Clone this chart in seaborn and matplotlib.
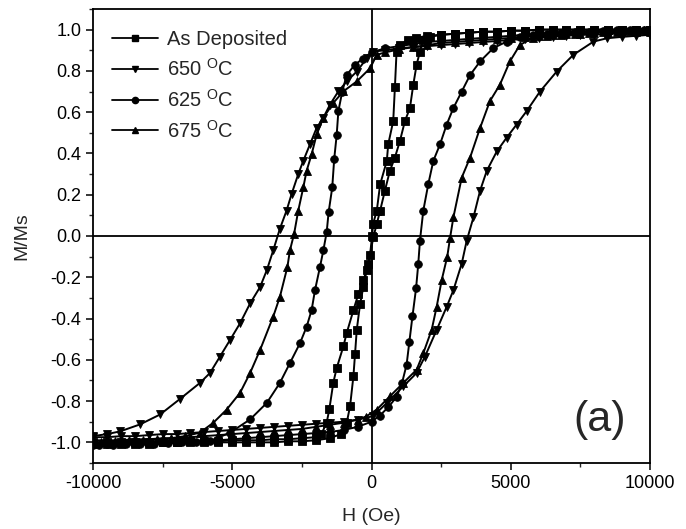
import matplotlib
matplotlib.use('Agg')
import matplotlib.pyplot as plt
import seaborn as sns
import pandas as pd
from matplotlib.ticker import MultipleLocator, FormatStrFormatter
from matplotlib.lines import Line2D

# ---------------- data (H in Oe, M/Ms) ----------------
series_labels = ["As Deposited", "650 $^{\\mathrm{O}}$C", "625 $^{\\mathrm{O}}$C", "675 $^{\\mathrm{O}}$C"]
series_markers = ['s', 'v', 'o', '^']

asdep_branch_a = [(-10000,-1.01),(-9500,-1.01),(-9000,-1.01),(-8500,-1.01),(-8000,-1.01),(-7500,-1.0),(-7000,-1.0),
    (-6500,-1.0),(-6000,-1.0),(-5500,-1.0),(-5000,-1.0),(-4500,-1.0),(-4000,-1.0),(-3500,-1.0),(-3000,-0.995),
    (-2500,-0.995),(-2000,-0.99),(-1500,-0.98),(-1100,-0.96),(-890,-0.905),(-770,-0.825),(-650,-0.68),(-590,-0.57),
    (-530,-0.455),(-410,-0.33),(-290,-0.245),(-170,-0.165),(-50,-0.09),(20,0.0),(60,0.06),(190,0.123),(310,0.25),
    (550,0.364),(600,0.444),(780,0.557),(840,0.72),(900,0.894),(1020,0.925),(1300,0.95),(1600,0.96),(2000,0.97),
    (2500,0.975),(3000,0.98),(3500,0.985),(4000,0.99),(4500,0.99),(5000,0.995),(5500,0.995),(6000,1.0),(6500,1.0),
    (7000,1.0),(7500,1.0),(8000,1.0),(8500,1.0),(9000,1.0),(9500,1.0),(10000,1.0)]

asdep_branch_b = [(-10000,-1.0),(-9500,-1.0),(-9000,-1.0),(-8500,-1.0),(-8000,-1.0),(-7500,-1.0),(-7000,-1.0),
    (-6500,-0.995),(-6000,-0.995),(-5500,-0.995),(-5000,-0.99),(-4500,-0.99),(-4000,-0.99),(-3500,-0.985),
    (-3000,-0.985),(-2500,-0.98),(-2000,-0.975),(-1800,-0.96),(-1610,-0.905),(-1515,-0.84),(-1370,-0.71),
    (-1250,-0.64),(-1010,-0.535),(-890,-0.47),(-650,-0.36),(-470,-0.28),(-290,-0.215),(-110,-0.135),(65,-0.006),
    (190,0.059),(310,0.123),(480,0.219),(660,0.316),(840,0.38),(1020,0.46),(1200,0.557),(1380,0.62),(1500,0.733),
    (1620,0.83),(1740,0.894),(1850,0.95),(2100,0.965),(2500,0.975),(3000,0.98),(3500,0.985),(4000,0.99),(4500,0.99),
    (5000,0.995),(5500,0.995),(6000,1.0),(6500,1.0),(7000,1.0),(7500,1.0),(8000,1.0),(8500,1.0),(9000,1.0),
    (9500,1.0),(10000,1.0)]

t650_desc = [(10000,0.985),(9500,0.985),(9000,0.98),(8500,0.98),(8000,0.975),(7500,0.975),(7000,0.97),(6500,0.965),
    (6000,0.96),(5500,0.955),(5000,0.95),(4500,0.945),(4000,0.94),(3500,0.935),(3000,0.93),(2500,0.925),(2000,0.92),
    (1500,0.915),(1000,0.91),(500,0.90),(60,0.894),(-170,0.861),(-530,0.797),(-890,0.749),(-1190,0.701),
    (-1490,0.637),(-1730,0.573),(-1970,0.524),(-2210,0.444),(-2450,0.364),(-2630,0.30),(-2870,0.203),(-3050,0.123),
    (-3290,0.035),(-3530,-0.07),(-3760,-0.166),(-4000,-0.247),(-4360,-0.327),(-4720,-0.423),(-5080,-0.504),
    (-5440,-0.584),(-5800,-0.664),(-6160,-0.712),(-6880,-0.79),(-7590,-0.865),(-8310,-0.913),(-9030,-0.947),
    (-9500,-0.96),(-10000,-0.97)]

t650_asc = [(-10000,-0.975),(-9500,-0.975),(-9000,-0.97),(-8500,-0.97),(-8000,-0.965),(-7500,-0.96),(-7000,-0.96),
    (-6500,-0.955),(-6000,-0.95),(-5500,-0.945),(-5000,-0.94),(-4500,-0.935),(-4000,-0.93),(-3500,-0.925),
    (-3000,-0.92),(-2500,-0.915),(-2000,-0.91),(-1500,-0.905),(-1000,-0.90),(-500,-0.89),(60,-0.873),(550,-0.809),
    (1140,-0.729),(1620,-0.664),(1920,-0.584),(2340,-0.455),(2700,-0.343),(2940,-0.263),(3240,-0.134),(3420,-0.022),
    (3660,0.09),(3900,0.22),(4140,0.316),(4500,0.41),(4850,0.476),(5210,0.54),(5570,0.605),(6050,0.70),(6650,0.797),
    (7250,0.878),(7970,0.942),(8450,0.958),(9000,0.965),(9500,0.97),(10000,0.975)]

t625_desc = [(10000,1.0),(9500,1.0),(9000,1.0),(8500,0.995),(8000,0.995),(7500,0.99),(7000,0.99),(6500,0.985),
    (6000,0.98),(5500,0.975),(5000,0.97),(4500,0.965),(4000,0.96),(3500,0.955),(3000,0.95),(2500,0.945),(2000,0.94),
    (1500,0.93),(1000,0.92),(500,0.91),(0,0.89),(-300,0.86),(-600,0.83),(-890,0.78),(-1050,0.70),(-1190,0.605),
    (-1250,0.49),(-1340,0.372),(-1410,0.235),(-1540,0.115),(-1610,0.018),(-1730,-0.07),(-1850,-0.15),(-2030,-0.263),
    (-2150,-0.359),(-2330,-0.44),(-2570,-0.52),(-2930,-0.616),(-3290,-0.712),(-3760,-0.809),(-4360,-0.889),
    (-5080,-0.953),(-5800,-0.994),(-6300,-1.0),(-6800,-1.0),(-7300,-1.005),(-7800,-1.01),(-8300,-1.01),
    (-8800,-1.01),(-9300,-1.015),(-9800,-1.015),(-10000,-1.015)]

t625_asc = [(-10000,-1.01),(-9500,-1.01),(-9000,-1.0),(-8500,-1.0),(-8000,-1.0),(-7500,-1.0),(-7000,-1.0),
    (-6500,-0.995),(-6000,-0.99),(-5500,-0.99),(-5000,-0.985),(-4500,-0.98),(-4000,-0.975),(-3500,-0.97),
    (-3000,-0.965),(-2500,-0.96),(-2000,-0.955),(-1500,-0.95),(-1000,-0.94),(-500,-0.925),(0,-0.9),(300,-0.87),
    (600,-0.83),(900,-0.78),(1100,-0.71),(1260,-0.624),(1360,-0.512),(1470,-0.39),(1600,-0.254),(1680,-0.134),
    (1740,-0.022),(1860,0.123),(2040,0.252),(2220,0.364),(2460,0.444),(2700,0.54),(2940,0.62),(3240,0.70),
    (3540,0.78),(3900,0.846),(4370,0.91),(4850,0.942),(5330,0.966),(5800,0.975),(6300,0.98),(6800,0.985),
    (7300,0.99),(7800,0.99),(8300,0.995),(8800,1.0),(9300,1.0),(9800,1.0),(10000,1.0)]

t675_desc = [(10000,0.99),(9500,0.99),(9000,0.99),(8500,0.985),(8000,0.985),(7500,0.98),(7000,0.98),(6500,0.975),
    (6000,0.97),(5500,0.965),(5000,0.96),(4500,0.955),(4000,0.95),(3500,0.945),(3000,0.94),(2500,0.935),
    (2000,0.925),(1500,0.915),(1000,0.905),(500,0.89),(190,0.878),(-50,0.813),(-530,0.749),(-1010,0.701),
    (-1370,0.645),(-1730,0.573),(-1970,0.492),(-2150,0.396),(-2330,0.316),(-2450,0.235),(-2630,0.123),
    (-2780,0.01),(-2930,-0.07),(-3020,-0.15),(-3290,-0.295),(-3530,-0.391),(-4000,-0.552),(-4360,-0.664),
    (-4720,-0.76),(-5200,-0.841),(-5680,-0.905),(-6160,-0.953),(-6700,-0.97),(-7200,-0.98),(-7700,-0.985),
    (-8200,-0.99),(-8700,-0.99),(-9200,-0.995),(-9700,-1.0),(-10000,-1.0)]

t675_asc = [(-10000,-0.99),(-9500,-0.99),(-9000,-0.99),(-8500,-0.985),(-8000,-0.985),(-7500,-0.98),(-7000,-0.98),
    (-6500,-0.975),(-6000,-0.97),(-5500,-0.965),(-5000,-0.96),(-4500,-0.955),(-4000,-0.95),(-3500,-0.945),
    (-3000,-0.94),(-2500,-0.935),(-2000,-0.925),(-1500,-0.915),(-1000,-0.905),(-500,-0.89),(-200,-0.875),
    (190,-0.841),(660,-0.777),(1140,-0.712),(1620,-0.648),(1860,-0.568),(2160,-0.455),(2340,-0.343),(2520,-0.214),
    (2720,-0.10),(2820,-0.01),(2940,0.09),(3240,0.283),(3540,0.38),(3900,0.524),(4250,0.653),(4610,0.733),
    (4970,0.846),(5330,0.926),(5800,0.96),(6300,0.97),(6800,0.975),(7300,0.98),(7800,0.985),(8300,0.99),
    (8800,0.99),(9300,0.995),(9800,1.0),(10000,1.0)]

series_branches = [[asdep_branch_a, asdep_branch_b], [t650_desc, t650_asc],
                   [t625_desc, t625_asc], [t675_desc, t675_asc]]

x_ticks = [-10000, -5000, 0, 5000, 10000]
y_ticks = [-1.0, -0.8, -0.6, -0.4, -0.2, 0.0, 0.2, 0.4, 0.6, 0.8, 1.0]

# ---------------- style ----------------
sns.set_style('ticks')
plt.rcParams['font.family'] = ['Liberation Sans', 'DejaVu Sans']
plt.rcParams['mathtext.fontset'] = 'custom'
plt.rcParams['mathtext.rm'] = 'Liberation Sans'
plt.rcParams['axes.unicode_minus'] = False

fig = plt.figure(figsize=(6.86, 5.29), dpi=100)
ax = fig.add_axes([0.1356, 0.1248, 0.8119, 0.8582])

ax.axhline(0, color='black', lw=1.3, zorder=1)
ax.axvline(0, color='black', lw=1.3, zorder=1)

handles = []
for label, marker, branches in zip(series_labels, series_markers, series_branches):
    for br in branches:
        df = pd.DataFrame(br, columns=['H', 'M'])
        sns.lineplot(data=df, x='H', y='M', sort=False, estimator=None, ax=ax,
                     color='black', marker=marker, markersize=5.5, markeredgecolor='black',
                     markeredgewidth=0.6, linewidth=1.4, legend=False, zorder=3)
    handles.append(Line2D([0], [0], color='black', marker=marker, markersize=4.5,
                          markeredgecolor='black', lw=1.3, label=label))

ax.set_xlim(-10000, 10000)
ax.set_ylim(-1.1, 1.1)
ax.set_xticks(x_ticks)
ax.set_yticks(y_ticks)
ax.xaxis.set_minor_locator(MultipleLocator(2500))
ax.yaxis.set_minor_locator(MultipleLocator(0.1))
ax.yaxis.set_major_formatter(FormatStrFormatter('%.1f'))
ax.tick_params(which='major', direction='out', length=5, width=1.1, labelsize=13, colors='black')
ax.tick_params(which='minor', direction='out', length=3, width=1.0)
for s in ax.spines.values():
    s.set_linewidth(1.3)
    s.set_color('black')

ax.set_xlabel('H (Oe)', fontsize=14, labelpad=12)
ax.set_ylabel('M/Ms', fontsize=14, labelpad=14)

ax.legend(handles=handles, loc='upper left', bbox_to_anchor=(0.005, 0.99), frameon=False,
          fontsize=14.5, handlelength=2.3, handletextpad=0.45, labelspacing=0.45, borderpad=0.3)

ax.text(8200, -0.89, '(a)', fontsize=31, ha='center', va='center')

fig.savefig('out.png', dpi=100)
